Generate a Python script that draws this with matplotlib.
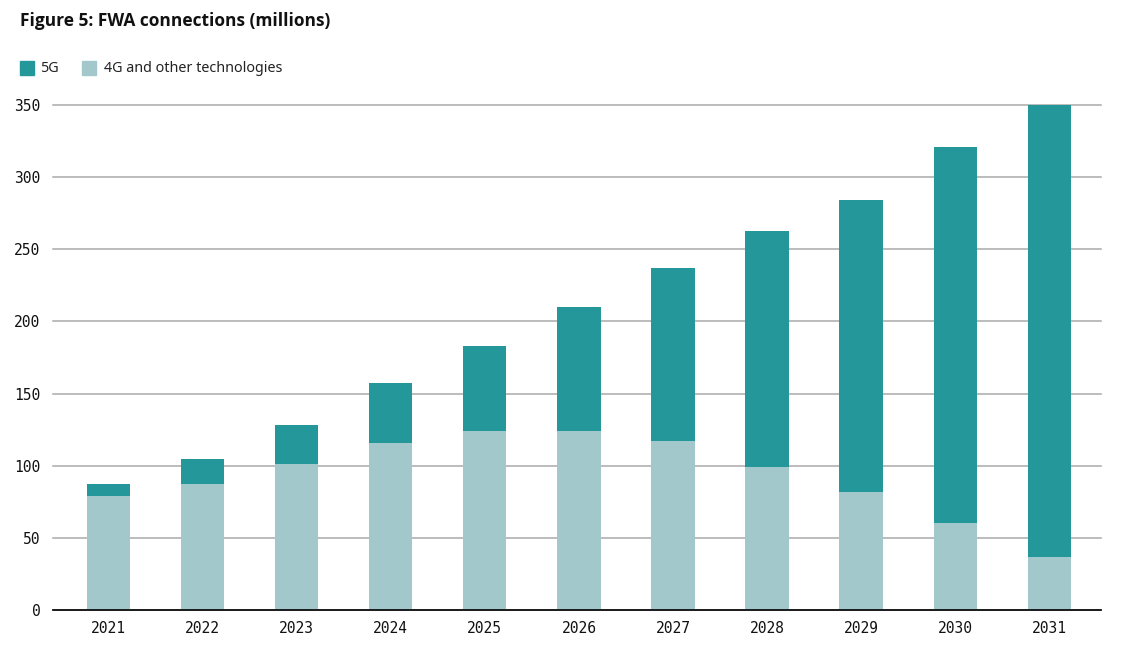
import matplotlib.pyplot as plt
from matplotlib.patches import Rectangle

years = ["2021", "2022", "2023", "2024", "2025", "2026", "2027", "2028", "2029", "2030", "2031"]
other_4g = [79, 87, 101, 116, 124, 124, 117, 99, 82, 60, 37]
total = [87, 105, 128, 157, 183, 210, 237, 263, 284, 321, 350]
fiveg = [t - o for t, o in zip(total, other_4g)]

c5g = "#23979a"
c4g = "#a2c8cc"

fig = plt.figure(figsize=(11.35, 6.62), dpi=100)
ax = fig.add_axes([53 / 1135, 52 / 662, 1048 / 1135, 505 / 662])

x = range(len(years))
ax.bar(x, other_4g, width=0.46, color=c4g, zorder=3)
ax.bar(x, fiveg, width=0.46, bottom=other_4g, color=c5g, zorder=3)

ax.set_ylim(0, 350)
ax.set_xlim(-0.59, 10.55)
ax.set_yticks(range(0, 351, 50))
ax.set_xticks(list(x))
ax.set_xticklabels(years)
ax.yaxis.grid(True, color="#aaaaaa", linewidth=1.1, zorder=0)
for gl in ax.get_ygridlines():
    gl.set_clip_on(False)
for s in ["top", "right", "left"]:
    ax.spines[s].set_visible(False)
ax.spines["bottom"].set_color("black")
ax.spines["bottom"].set_linewidth(1.2)
ax.spines["bottom"].set_zorder(4)
ax.tick_params(length=0, labelsize=10.5, pad=8)
ax.tick_params(axis="y", pad=9)
for lab in ax.get_xticklabels() + ax.get_yticklabels():
    lab.set_family("DejaVu Sans Mono")
    lab.set_color("#111111")

fig.text(20 / 1135, 1 - 21 / 662, "Figure 5: FWA connections (millions)", fontsize=12.5,
         fontweight="bold", family="Open Sans", va="center", ha="left", color="#111111")

# legend
ly = 1 - 68 / 662
fig.patches.append(Rectangle((20 / 1135, ly - 7 / 662), 14 / 1135, 14 / 662,
                             transform=fig.transFigure, color=c5g))
fig.text(40 / 1135, ly, "5G", fontsize=10.3, family="Noto Sans", va="center", color="#222222")
fig.patches.append(Rectangle((82 / 1135, ly - 7 / 662), 14 / 1135, 14 / 662,
                             transform=fig.transFigure, color=c4g))
fig.text(104 / 1135, ly, "4G and other technologies", fontsize=10.3, family="Noto Sans",
         va="center", color="#222222")

fig.savefig("out.png", dpi=100)
